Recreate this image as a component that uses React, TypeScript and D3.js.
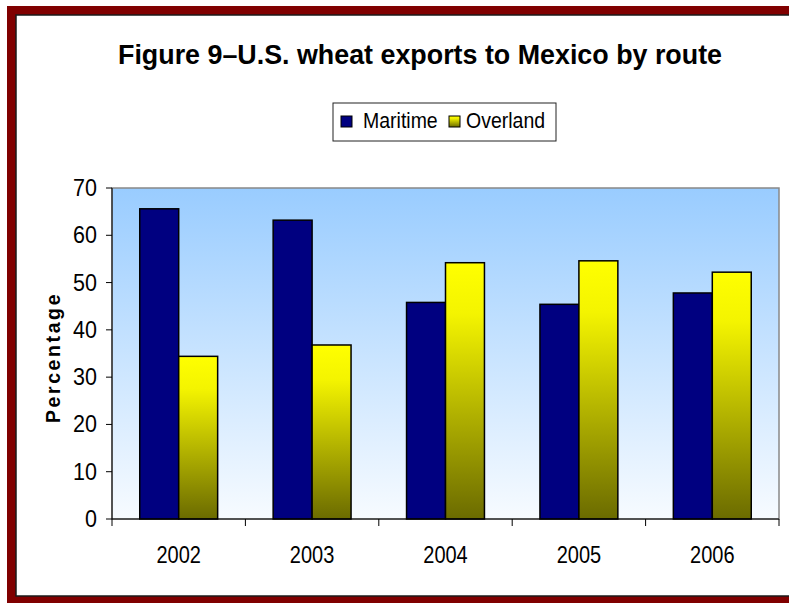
import React from "react";
import * as d3 from "d3";

const years = ["2002", "2003", "2004", "2005", "2006"];
const maritime = [65.6, 63.2, 45.8, 45.4, 47.8];
const overland = [34.4, 36.8, 54.2, 54.6, 52.2];
const yTicks = [0, 10, 20, 30, 40, 50, 60, 70];
const seriesNames = ["Maritime", "Overland"];

const W = 789;
const H = 603;
const plot = { left: 112, right: 779, top: 188, bottom: 519 };
const font = "'Liberation Sans', Arial, sans-serif";

export default function App() {
  const x = d3
    .scaleBand<string>()
    .domain(years)
    .range([plot.left, plot.right])
    .paddingInner(0)
    .paddingOuter(0);
  const y = d3.scaleLinear().domain([0, 70]).range([plot.bottom, plot.top]);
  const bw = x.bandwidth() * 0.292;
  const off = (x.bandwidth() - 2 * bw) / 2;
  const boundaries = years.map((yr) => x(yr) as number).concat([plot.right]);

  return (
    <svg
      width={W}
      height={H}
      style={{ position: "absolute", left: 0, top: 0, background: "#fff" }}
    >
      <defs>
        <linearGradient id="bg" x1="0" y1="0" x2="0" y2="1">
          <stop offset="0" stopColor="#99CCFF" />
          <stop offset="1" stopColor="#F7FBFF" />
        </linearGradient>
        <linearGradient id="yel" x1="0" y1="0" x2="0" y2="1">
          <stop offset="0" stopColor="#FFFF00" />
          <stop offset="0.2" stopColor="#F4F400" />
          <stop offset="1" stopColor="#6B6B00" />
        </linearGradient>
      </defs>
      {/* frame */}
      <rect x={7} y={6} width={820} height={640} fill="#800000" />
      <rect x={16} y={15} width={800} height={581} fill="#fff" stroke="#1a1a1a" strokeWidth={1.5} />

      {/* title */}
      <text
        transform="translate(420, 64) scale(1, 1.08)"
        textAnchor="middle"
        fontFamily={font}
        fontWeight="bold"
        fontSize={26}
        textLength={604}
        lengthAdjust="spacingAndGlyphs"
        fill="#000"
      >
        Figure 9–U.S. wheat exports to Mexico by route
      </text>

      {/* legend */}
      <rect x={333} y={103} width={223} height={38} fill="#fff" stroke="#222" strokeWidth={1} />
      <rect x={341} y={116} width={11} height={11} fill="#000080" stroke="#000" strokeWidth={1} />
      <text transform="translate(363, 128) scale(1, 1.1)" fontFamily={font} fontSize={19.5} fill="#000">
        {seriesNames[0]}
      </text>
      <rect x={449} y={116} width={11} height={11} fill="url(#yel)" stroke="#000" strokeWidth={1} />
      <text transform="translate(466, 128) scale(1, 1.1)" fontFamily={font} fontSize={19.5} fill="#000">
        {seriesNames[1]}
      </text>

      {/* plot background */}
      <rect
        x={plot.left}
        y={plot.top}
        width={plot.right - plot.left}
        height={plot.bottom - plot.top}
        fill="url(#bg)"
        stroke="#888"
        strokeWidth={1.5}
      />

      {/* bars */}
      {years.map((yr, i) => {
        const bx = (x(yr) as number) + off;
        return (
          <g key={yr}>
            <rect
              x={bx}
              y={y(maritime[i])}
              width={bw}
              height={plot.bottom - y(maritime[i])}
              fill="#000080"
              stroke="#000"
              strokeWidth={1.5}
            />
            <rect
              x={bx + bw}
              y={y(overland[i])}
              width={bw}
              height={plot.bottom - y(overland[i])}
              fill="url(#yel)"
              stroke="#000"
              strokeWidth={1.5}
            />
          </g>
        );
      })}

      {/* y axis */}
      <line x1={plot.left} x2={plot.left} y1={plot.top} y2={plot.bottom} stroke="#000" strokeWidth={1} />
      {yTicks.map((t) => (
        <g key={t}>
          <line x1={plot.left - 6} x2={plot.left} y1={y(t)} y2={y(t)} stroke="#000" strokeWidth={1} />
          <text
            transform={`translate(97, ${y(t) + 8}) scale(1, 1.08)`}
            textAnchor="end"
            fontFamily={font}
            fontSize={21.5}
            fill="#000"
          >
            {t}
          </text>
        </g>
      ))}

      {/* x axis */}
      <line x1={plot.left} x2={plot.right} y1={plot.bottom} y2={plot.bottom} stroke="#000" strokeWidth={1} />
      {boundaries.map((b, i) => (
        <line key={i} x1={b} x2={b} y1={plot.bottom} y2={plot.bottom + 7} stroke="#000" strokeWidth={1} />
      ))}
      {years.map((yr) => (
        <text
          key={yr}
          transform={`translate(${(x(yr) as number) + x.bandwidth() / 2}, 563) scale(1, 1.15)`}
          textAnchor="middle"
          fontFamily={font}
          fontSize={20}
          fill="#000"
        >
          {yr}
        </text>
      ))}

      {/* y label */}
      <text
        transform={`translate(60, ${(plot.top + plot.bottom) / 2 + 4}) rotate(-90)`}
        textAnchor="middle"
        fontFamily={font}
        fontWeight="bold"
        fontSize={19.5}
        letterSpacing={2.6}
        fill="#000"
      >
        Percentage
      </text>
    </svg>
  );
}
